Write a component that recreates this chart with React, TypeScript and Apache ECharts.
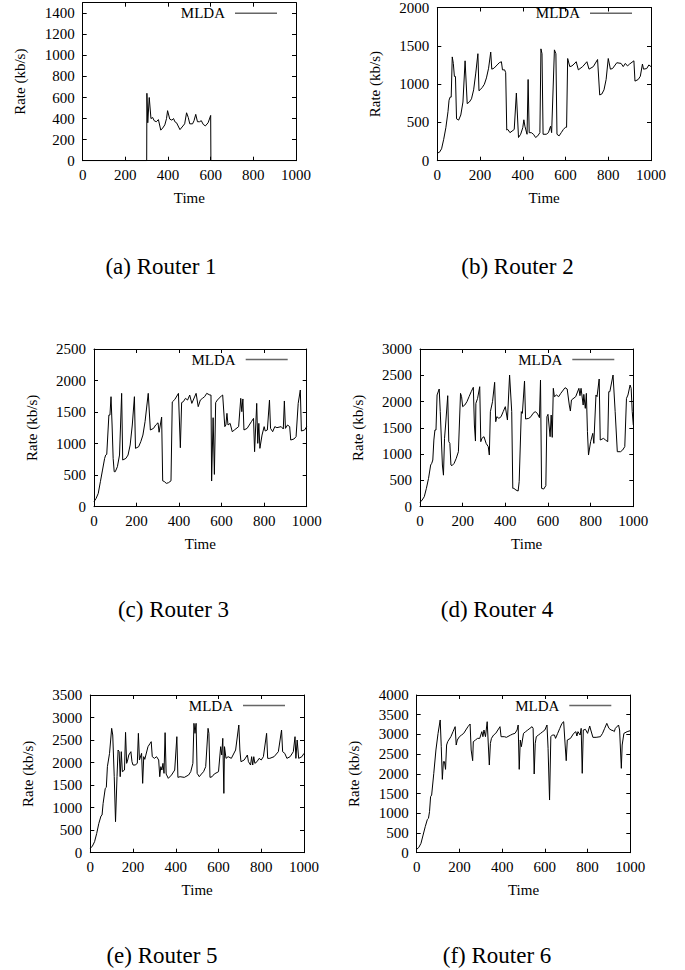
import React, { useEffect, useRef } from "react";
import * as echarts from "echarts";

const FONT = '"Liberation Serif", "Times New Roman", Times, serif';

const seriesName = "MLDA";
const xName = "Time";
const yName = "Rate (kb/s)";
const captions = ["(a) Router 1", "(b) Router 2", "(c) Router 3", "(d) Router 4", "(e) Router 5", "(f) Router 6"];
const yMaxes = [1500, 2000, 2500, 3000, 3500, 4000];
const yIntervals = [200, 500, 500, 500, 500, 500];

// [time, rate] samples
const router1: number[][] = [
  [0, 0], [300, 0], [301, 640], [305, 360], [312, 600], [320, 400], [328, 410], [335, 380], [345, 370],
  [355, 390], [366, 290], [375, 310], [385, 340], [393, 400], [398, 475], [408, 395], [418, 385], [426, 400],
  [432, 370], [440, 360], [456, 295], [466, 320], [478, 350], [487, 455], [495, 410], [502, 350], [515, 350],
  [522, 380], [530, 440], [538, 370], [548, 370], [556, 380], [565, 345], [575, 330], [588, 360], [600, 430],
  [601, 0], [1000, 0],
];

const router2: number[][] = [
  [0, 100], [10, 110], [20, 155], [30, 280], [40, 430], [50, 640], [55, 790], [60, 830], [65, 830], [70, 1355],
  [75, 1270], [80, 1100], [85, 1100], [90, 547], [100, 530], [110, 597], [120, 766], [130, 1304], [140, 745],
  [150, 766], [160, 808], [170, 925], [180, 1144], [190, 1397], [195, 913], [200, 925], [210, 955], [220, 997],
  [230, 1081], [240, 1207], [250, 1418], [255, 1195], [265, 1207], [280, 1250], [290, 1279], [300, 1292],
  [305, 1186], [315, 1186], [320, 1150], [325, 400], [330, 408], [340, 366], [350, 387], [360, 408], [370, 883],
  [380, 303], [390, 345], [400, 430], [405, 534], [410, 450], [420, 345], [425, 1060], [430, 366], [440, 366],
  [450, 345], [460, 303], [470, 324], [480, 366], [485, 1460], [490, 1397], [495, 345], [510, 345], [520, 366],
  [530, 450], [535, 366], [548, 1447], [555, 1397], [560, 345], [570, 324], [580, 366], [590, 408], [600, 437],
  [605, 437], [610, 1334], [620, 1228], [630, 1237], [640, 1262], [650, 1292], [660, 1186], [680, 1228],
  [700, 1292], [710, 1195], [730, 1228], [750, 1321], [760, 858], [770, 871], [780, 925], [790, 1060],
  [800, 1334], [810, 1195], [820, 1203], [840, 1279], [860, 1270], [870, 1228], [880, 1270], [890, 1237],
  [900, 1262], [920, 1304], [925, 1039], [940, 1060], [950, 1102], [960, 1262], [965, 1195], [980, 1203],
  [990, 1250], [1000, 1228],
];

const router3: number[][] = [
  [0, 79], [10, 132], [20, 211], [30, 396], [40, 581], [50, 766], [55, 819], [60, 830], [70, 1453], [75, 1453],
  [80, 1744], [85, 1295], [90, 766], [95, 555], [100, 555], [110, 634], [120, 819], [130, 1797], [135, 740],
  [150, 766], [160, 819], [170, 978], [180, 1295], [190, 1744], [195, 925], [210, 951], [220, 1031], [230, 1136],
  [240, 1348], [255, 1797], [265, 1216], [280, 1242], [290, 1295], [301, 1330], [306, 1180], [318, 1420],
  [323, 410], [330, 400], [340, 370], [350, 380], [362, 410], [368, 1660], [380, 1700], [397, 1797], [406, 935],
  [412, 1650], [420, 1665], [430, 1718], [440, 1691], [450, 1770], [460, 1638], [480, 1797], [490, 1586],
  [500, 1691], [510, 1718], [520, 1744], [530, 1797], [545, 1770], [550, 1770], [553, 407], [560, 1411],
  [566, 512], [572, 1650], [580, 1691], [600, 1760], [605, 1770], [615, 1269], [620, 1295], [625, 1480],
  [630, 1295], [640, 1321], [650, 1189], [660, 1216], [680, 1269], [690, 1718], [695, 1506], [700, 1708],
  [705, 1216], [720, 1242], [740, 1348], [750, 1400], [755, 872], [765, 1638], [770, 1004], [775, 1321],
  [780, 925], [790, 1136], [800, 1269], [805, 1200], [815, 1216], [825, 1691], [830, 1242], [840, 1189],
  [850, 1269], [860, 1253], [880, 1269], [890, 1232], [895, 1676], [900, 1242], [910, 1295], [920, 1269],
  [925, 1057], [940, 1073], [950, 1110], [960, 1638], [970, 1850], [975, 1200], [990, 1216], [1000, 1269],
];

const router4: number[][] = [
  [0, 82], [10, 127], [20, 190], [30, 349], [40, 539], [50, 793], [55, 825], [60, 888], [65, 1268], [70, 1459],
  [75, 1459], [80, 2125], [90, 2239], [95, 1808], [105, 793], [110, 600], [115, 1300], [120, 1554], [130, 2112],
  [135, 1237], [140, 1205], [145, 793], [150, 780], [160, 825], [170, 920], [180, 1046], [190, 2156], [195, 2093],
  [200, 1903], [210, 1934], [220, 1998], [230, 2093], [240, 2188], [250, 2271], [255, 1554], [260, 1249],
  [262, 1966], [270, 2061], [280, 2283], [285, 1237], [290, 1300], [300, 1332], [310, 1205], [320, 1142],
  [325, 983], [330, 1808], [340, 1998], [350, 2366], [355, 1617], [360, 1712], [370, 1681], [380, 1712],
  [390, 1808], [400, 1903], [410, 1649], [420, 2505], [430, 1808], [435, 349], [440, 349], [450, 317],
  [460, 298], [465, 476], [475, 1808], [480, 1776], [490, 2391], [495, 1668], [510, 1681], [520, 1712],
  [530, 1776], [540, 1808], [550, 1776], [560, 1693], [565, 2410], [570, 349], [580, 336], [590, 400],
  [595, 1712], [600, 1757], [610, 1332], [615, 1744], [620, 1319], [625, 2252], [630, 2093], [640, 2125],
  [650, 2093], [660, 2156], [680, 2264], [690, 2239], [700, 1934], [705, 1820], [710, 2030], [730, 2093],
  [745, 2252], [750, 2112], [755, 2252], [765, 1934], [768, 2137], [775, 1871], [780, 2156], [785, 1427],
  [790, 983], [800, 1237], [810, 1395], [815, 1205], [825, 2125], [830, 2093], [840, 2429], [845, 1268],
  [860, 1300], [870, 1268], [880, 1237], [885, 2188], [890, 2188], [905, 2505], [915, 1808], [925, 1046],
  [940, 1046], [950, 1078], [960, 1142], [968, 2061], [975, 2125], [985, 2315], [990, 2252], [995, 1808],
  [1000, 1554],
];

const router5: number[][] = [
  [0, 96], [10, 148], [20, 244], [30, 429], [40, 651], [50, 814], [55, 836], [60, 1095], [70, 1428], [75, 1450],
  [80, 1909], [90, 2205], [100, 2760], [105, 2612], [112, 1687], [118, 688], [125, 1687], [130, 2279],
  [135, 2242], [140, 1687], [145, 2242], [150, 1798], [160, 1835], [165, 2671], [170, 1983], [175, 2057],
  [180, 2168], [190, 2242], [195, 2020], [200, 1946], [210, 1946], [220, 1983], [225, 2649], [230, 2057],
  [240, 2205], [245, 1539], [250, 2131], [255, 2072], [260, 2168], [270, 2353], [280, 2427], [285, 2464],
  [290, 2131], [300, 2094], [310, 2131], [320, 2057], [325, 1687], [330, 1909], [335, 1835], [340, 1983],
  [345, 1761], [350, 2664], [355, 1746], [365, 1650], [380, 1724], [395, 1835], [405, 2575], [410, 1672],
  [420, 1687], [440, 1672], [460, 1724], [470, 1798], [480, 1983], [485, 2871], [490, 2649], [495, 2871],
  [500, 1761], [510, 1687], [520, 1746], [530, 1798], [540, 1909], [551, 2760], [555, 2649], [560, 1672],
  [570, 1687], [580, 1746], [600, 1798], [610, 2353], [615, 2168], [620, 2538], [625, 1317], [628, 2353],
  [635, 2094], [645, 2131], [660, 2094], [680, 2279], [695, 2834], [700, 2279], [705, 2020], [720, 2057],
  [735, 2168], [740, 2020], [750, 1946], [755, 2131], [760, 1946], [765, 2131], [770, 1983], [780, 2020],
  [790, 2094], [800, 2057], [810, 2131], [825, 2649], [830, 2094], [840, 2094], [860, 2131], [880, 2242],
  [895, 2723], [900, 2242], [910, 2205], [920, 2094], [935, 2131], [950, 2242], [958, 2575], [962, 2094],
  [968, 2501], [975, 2094], [990, 2131], [1000, 2205],
];

const router6: number[][] = [
  [0, 85], [10, 135], [20, 237], [30, 448], [40, 660], [50, 846], [55, 871], [60, 1040], [65, 1421], [70, 1463],
  [80, 2013], [90, 2605], [100, 3027], [110, 3366], [115, 2689], [120, 1860], [125, 2309], [130, 2309],
  [135, 2114], [140, 2731], [145, 2816], [150, 2858], [160, 2943], [170, 3070], [180, 3197], [185, 2731],
  [190, 2858], [200, 2943], [210, 2985], [220, 3027], [230, 3112], [240, 3197], [250, 3264], [255, 2605],
  [262, 2334], [265, 2816], [275, 2858], [285, 2900], [295, 2900], [305, 3070], [310, 2943], [315, 3112],
  [322, 2943], [330, 3323], [340, 2224], [345, 2774], [350, 2900], [360, 2985], [370, 3027], [380, 3112],
  [390, 3197], [395, 2943], [410, 2943], [420, 2926], [440, 2985], [450, 3010], [460, 3027], [470, 3112],
  [475, 3239], [480, 2114], [485, 2858], [490, 2689], [500, 3027], [510, 3070], [520, 3112], [530, 3154],
  [540, 3197], [545, 3154], [550, 1996], [555, 2774], [560, 2943], [570, 2985], [580, 3027], [590, 3070],
  [600, 3112], [610, 3239], [615, 2647], [622, 1336], [628, 2943], [635, 2985], [645, 2985], [650, 2900],
  [660, 3027], [670, 3154], [680, 3281], [688, 3323], [695, 2731], [700, 2334], [705, 2858], [720, 2900],
  [735, 3027], [745, 3070], [750, 2960], [755, 3070], [765, 2985], [770, 3154], [775, 2013], [780, 3112],
  [790, 3129], [800, 3027], [810, 3214], [815, 3112], [825, 2926], [840, 2926], [860, 2943], [870, 3027],
  [880, 3154], [890, 3281], [900, 3154], [910, 3112], [920, 3095], [925, 3070], [930, 3154], [945, 3239],
  [950, 3112], [958, 2140], [962, 2731], [970, 3027], [985, 3070], [1000, 3095],
];

const routerData = [router1, router2, router3, router4, router5, router6];

// layout (pixels)
const gridBoxes = [
  { left: 82.7, top: 2.7, width: 213.3, height: 158 },
  { left: 437.3, top: 2.7, width: 213.7, height: 158 },
  { left: 94, top: 349, width: 212.7, height: 157.7 },
  { left: 420, top: 349, width: 213.3, height: 157.7 },
  { left: 90.3, top: 695, width: 213.7, height: 157.7 },
  { left: 416.7, top: 695, width: 213.6, height: 157.7 },
];
const captionPos = [
  [161, 266], [517.5, 266], [173.5, 609], [497, 609], [162, 955], [497, 955],
];

const W = 685;
const H = 970;

function buildOption() {
  const grid: any[] = [];
  const xAxis: any[] = [];
  const yAxis: any[] = [];
  const series: any[] = [];
  const legend: any[] = [];
  const graphic: any[] = [];
  const labelStyle = { fontFamily: FONT, fontSize: 15, color: "#000" };
  const lineStyle = { color: "#000", width: 1 };
  const plain = (v: number) => String(v);

  gridBoxes.forEach((g, i) => {
    grid.push({ ...g, containLabel: false });
    const xBase = {
      type: "value",
      gridIndex: i,
      min: 0,
      max: 1000,
      interval: 200,
      splitLine: { show: false },
      axisLine: { show: true, onZero: false, lineStyle },
      axisTick: { show: true, inside: true, length: 4, lineStyle },
    };
    xAxis.push({
      ...xBase,
      position: "bottom",
      axisLabel: { ...labelStyle, margin: 7, formatter: plain },
      name: xName,
      nameLocation: "middle",
      nameGap: 30,
      nameTextStyle: labelStyle,
    });
    xAxis.push({ ...xBase, position: "top", axisLabel: { show: false } });
    const yBase = {
      type: "value",
      gridIndex: i,
      min: 0,
      max: yMaxes[i],
      interval: yIntervals[i],
      splitLine: { show: false },
      axisLine: { show: true, onZero: false, lineStyle },
      axisTick: { show: true, inside: true, length: 4, lineStyle },
    };
    yAxis.push({
      ...yBase,
      position: "left",
      axisLabel: {
        ...labelStyle,
        margin: 8,
        formatter: plain,
        showMaxLabel: yMaxes[i] % yIntervals[i] === 0,
      },
      name: yName,
      nameLocation: "middle",
      nameRotate: 90,
      nameGap: 55,
      nameTextStyle: labelStyle,
    });
    yAxis.push({ ...yBase, position: "right", axisLabel: { show: false } });
    series.push({
      type: "line",
      name: seriesName,
      xAxisIndex: 2 * i,
      yAxisIndex: 2 * i,
      data: routerData[i],
      symbol: "none",
      lineStyle,
      silent: true,
    });
    legend.push({
      data: [seriesName],
      right: W - (g.left + g.width - 19),
      top: g.top + 3,
      padding: 0,
      align: "right",
      icon: "rect",
      itemWidth: 42,
      itemHeight: 1.6,
      itemStyle: { color: "#666", borderWidth: 0 },
      selectedMode: false,
      textStyle: { ...labelStyle, padding: [0, 5, 0, 0] },
    });
    graphic.push({
      type: "text",
      x: captionPos[i][0],
      y: captionPos[i][1],
      style: {
        text: captions[i],
        fontFamily: FONT,
        fontSize: 23,
        fill: "#000",
        align: "center",
        verticalAlign: "middle",
      },
    });
  });

  return {
    animation: false,
    backgroundColor: "#fff",
    grid,
    xAxis,
    yAxis,
    series,
    legend,
    graphic,
  };
}

export default function App() {
  const ref = useRef<HTMLDivElement>(null);
  useEffect(() => {
    if (!ref.current) return;
    const chart = echarts.init(ref.current, undefined, { renderer: "svg" });
    chart.setOption(buildOption() as any);
    return () => chart.dispose();
  }, []);
  return (
    <div
      ref={ref}
      style={{ position: "absolute", left: 0, top: 0, width: W, height: H, background: "#fff" }}
    />
  );
}
